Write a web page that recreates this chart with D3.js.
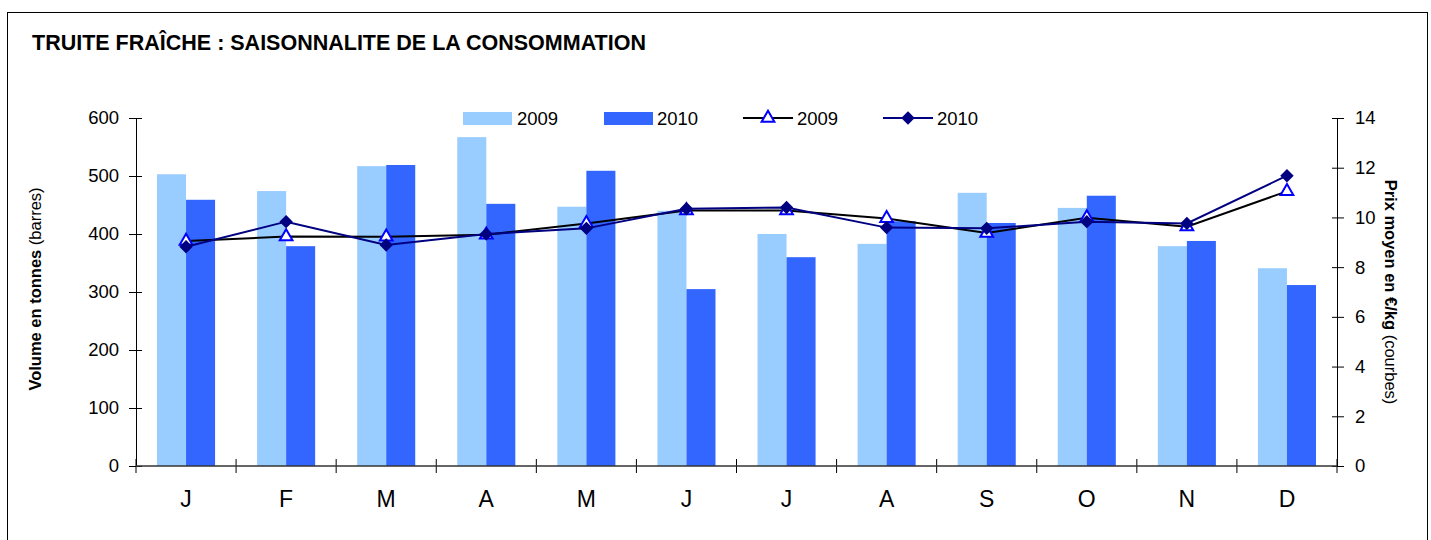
<!DOCTYPE html>
<html>
<head>
<meta charset="utf-8">
<script src="https://cdn.jsdelivr.net/npm/d3@7"></script>
<style>
  html, body { margin: 0; padding: 0; background: #fff; }
  svg { display: block; font-family: "Liberation Sans", Arial, sans-serif; }
</style>
</head>
<body>
<svg id="chart" width="1431" height="540"></svg>
<script>
// Monthly fresh trout consumption: volumes (bars) and average prices (lines)
const months = ["J", "F", "M", "A", "M", "J", "J", "A", "S", "O", "N", "D"];
const volume2009 = [503, 474, 517, 567, 447, 440, 400, 383, 471, 445, 379, 341];
const volume2010 = [459, 379, 519, 452, 509, 305, 360, 422, 419, 466, 388, 312];
const price2009 = [9.05, 9.23, 9.22, 9.3, 9.76, 10.28, 10.28, 9.96, 9.37, 9.99, 9.63, 11.05];
const price2010 = [8.82, 9.83, 8.89, 9.33, 9.56, 10.35, 10.4, 9.59, 9.56, 9.83, 9.76, 11.68];
const volumeTicks = [0, 100, 200, 300, 400, 500, 600];
const priceTicks = [0, 2, 4, 6, 8, 10, 12, 14];

const svg = d3.select("#chart");
const plotLeft = 136, plotRight = 1337, plotTop = 118, plotBottom = 466;

// frame
svg.append("rect")
  .attr("x", 7.5).attr("y", 12.5)
  .attr("width", 1420).attr("height", 540)
  .attr("fill", "none").attr("stroke", "#000").attr("stroke-width", 1);

svg.append("text")
  .attr("x", 32).attr("y", 50)
  .attr("font-size", 21.5).attr("font-weight", "bold")
  .text("TRUITE FRAÎCHE : SAISONNALITE DE LA CONSOMMATION");

const x = d3.scaleBand().domain(d3.range(12)).range([plotLeft, plotRight]).paddingInner(0).paddingOuter(0);
const yL = d3.scaleLinear().domain([0, 600]).range([plotBottom, plotTop]);
const yR = d3.scaleLinear().domain([0, 14]).range([plotBottom, plotTop]);
const barW = x.bandwidth() * 0.29;
const cx = i => x(i) + x.bandwidth() / 2;

// bars
const g = svg.append("g");
g.selectAll("rect.b09").data(volume2009).join("rect")
  .attr("x", (d, i) => cx(i) - barW).attr("width", barW)
  .attr("y", d => yL(d)).attr("height", d => yL(0) - yL(d))
  .attr("fill", "#99CCFF");
g.selectAll("rect.b10").data(volume2010).join("rect")
  .attr("x", (d, i) => cx(i)).attr("width", barW)
  .attr("y", d => yL(d)).attr("height", d => yL(0) - yL(d))
  .attr("fill", "#3366FF");

// axes (ticks cross the axis line)
const axisL = svg.append("g").attr("transform", `translate(${plotLeft},0)`)
  .call(d3.axisLeft(yL).tickValues(volumeTicks).tickSize(7).tickPadding(10));
axisL.selectAll(".tick line").attr("x1", 6);
const axisR = svg.append("g").attr("transform", `translate(${plotRight},0)`)
  .call(d3.axisRight(yR).tickValues(priceTicks).tickSize(7).tickPadding(11));
axisR.selectAll(".tick line").attr("x1", -5);
const xTicks = d3.range(13).map(i => plotLeft + i * x.bandwidth());
svg.append("g").selectAll("line").data(xTicks).join("line")
  .attr("x1", d => d).attr("x2", d => d).attr("y1", plotBottom - 7).attr("y2", plotBottom + 7)
  .attr("stroke", "#000");
svg.append("line").attr("x1", plotLeft).attr("x2", plotRight).attr("y1", plotBottom).attr("y2", plotBottom)
  .attr("stroke", "#333").attr("stroke-width", 1.5);
[axisL, axisR].forEach(a => {
  a.select(".domain").attr("stroke", "#000");
  a.selectAll(".tick line").attr("stroke", "#000");
  a.selectAll("text").attr("font-size", 18.5).attr("font-family", "Liberation Sans, Arial, sans-serif").attr("fill", "#000");
});
svg.append("g").selectAll("text").data(months).join("text")
  .attr("x", (d, i) => cx(i)).attr("y", 507)
  .attr("text-anchor", "middle").attr("font-size", 23).text(d => d);

// axis titles
const tL = svg.append("text").attr("transform", "translate(41,289) rotate(-90)")
  .attr("text-anchor", "middle").attr("font-size", 16.5);
tL.append("tspan").attr("font-weight", "bold").text("Volume en tonnes");
tL.append("tspan").text(" (barres)");
const tR = svg.append("text").attr("transform", "translate(1385,292) rotate(90)")
  .attr("text-anchor", "middle").attr("font-size", 16.5);
tR.append("tspan").attr("font-weight", "bold").text("Prix moyen en €/kg");
tR.append("tspan").text(" (courbes)");

// price lines
const line = d3.line().x((d, i) => cx(i)).y(d => yR(d));
svg.append("path").datum(price2009).attr("d", line)
  .attr("fill", "none").attr("stroke", "#000").attr("stroke-width", 2);
const tri = d3.symbol().type(d3.symbolTriangle).size(70);
svg.append("g").selectAll("path").data(price2009).join("path")
  .attr("d", tri).attr("transform", (d, i) => `translate(${cx(i)},${yR(d)})`)
  .attr("fill", "#fff").attr("stroke", "#0000FF").attr("stroke-width", 2);
svg.append("path").datum(price2010).attr("d", line)
  .attr("fill", "none").attr("stroke", "#000080").attr("stroke-width", 2);
const dia = d3.symbol().type(d3.symbolSquare).size(90);
svg.append("g").selectAll("path").data(price2010).join("path")
  .attr("d", dia).attr("transform", (d, i) => `translate(${cx(i)},${yR(d)}) rotate(45)`)
  .attr("fill", "#000080");

// legend
const lg = svg.append("g").attr("font-size", 18.5);
lg.append("rect").attr("x", 463).attr("y", 112).attr("width", 49).attr("height", 13).attr("fill", "#99CCFF");
lg.append("text").attr("x", 517).attr("y", 125).text("2009");
lg.append("rect").attr("x", 604).attr("y", 112).attr("width", 49).attr("height", 13).attr("fill", "#3366FF");
lg.append("text").attr("x", 657).attr("y", 125).text("2010");
lg.append("line").attr("x1", 743).attr("x2", 793).attr("y1", 118).attr("y2", 118).attr("stroke", "#000").attr("stroke-width", 2);
lg.append("path").attr("d", tri).attr("transform", "translate(768,118)")
  .attr("fill", "#fff").attr("stroke", "#0000FF").attr("stroke-width", 2);
lg.append("text").attr("x", 797).attr("y", 125).text("2009");
lg.append("line").attr("x1", 883).attr("x2", 933).attr("y1", 118).attr("y2", 118).attr("stroke", "#000080").attr("stroke-width", 2);
lg.append("path").attr("d", dia).attr("transform", "translate(908,118) rotate(45)").attr("fill", "#000080");
lg.append("text").attr("x", 937).attr("y", 125).text("2010");
</script>
</body>
</html>
